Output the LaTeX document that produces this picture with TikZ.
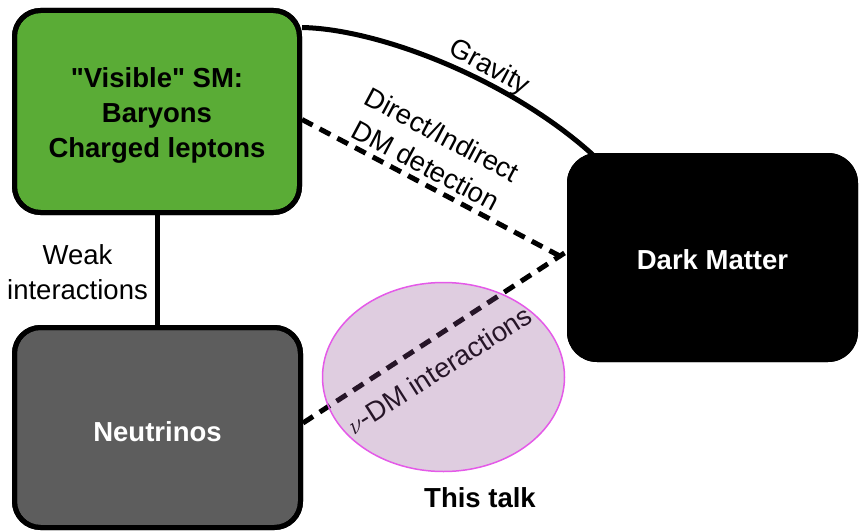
\documentclass[tikz,border=0pt]{standalone}
\usepackage{fontspec}
\setmainfont{Liberation Sans}[Ligatures=TeXOff]
\usetikzlibrary{shapes.geometric}
\definecolor{smgreen}{RGB}{90,172,54}
\definecolor{nugray}{RGB}{93,93,93}
\definecolor{blobfill}{RGB}{140,76,144}
\definecolor{blobedge}{RGB}{228,90,232}
\begin{document}
\begin{tikzpicture}[x=1pt,y=-1pt,
  bigfont/.style={font=\fontsize{27.5}{35}\selectfont},
  boldfont/.style={font=\fontsize{27.5}{35}\selectfont\bfseries},
  box/.style={rectangle, rounded corners=26pt, line width=5pt, draw=black, align=center, inner sep=0pt},
  conn/.style={line width=5pt},
  dashconn/.style={line width=5pt, dash pattern=on 12pt off 8pt},
  lbl/.style={bigfont, align=center, inner sep=0pt}]
\useasboundingbox (0,0) rectangle (859,532);

% boxes (positions)
\path node[box, fill=smgreen, minimum width=285pt, minimum height=202pt] (sm) at (157,111.5) {};
\path node[box, fill=nugray, minimum width=286pt, minimum height=200pt] (nu) at (157.5,427.5) {};
\path node[box, fill=black, draw=none, rounded corners=30pt, minimum width=291pt, minimum height=209pt] (dm) at (712.5,257.5) {};

% connectors (drawn under the boxes)
\draw[conn] (sm.south) -- (sm.south |- nu.north);
\draw[conn] ([yshift=84pt]sm.east) .. controls (380,29) and (510,80) .. ([xshift=-120pt,yshift=-4pt]dm.north);
\draw[dashconn] ([yshift=-8pt]sm.east) -- ([yshift=-1pt]dm.west);
\draw[dashconn] ([yshift=4.5pt]nu.east) -- ([yshift=4.5pt]dm.west);

% boxes redrawn over connector ends
\node[box, fill=black, draw=none, rounded corners=30pt, minimum width=291pt, minimum height=209pt] at (dm) {};
\node[box, fill=none, minimum width=285pt, minimum height=202pt] at (sm) {};
\node[box, fill=none, minimum width=286pt, minimum height=200pt] at (nu) {};

% box texts
\node[boldfont, align=center, inner sep=0pt] (smtext) at ([yshift=-4pt]sm.center) {"Visible" SM:\\Baryons\\Charged leptons};
\node[boldfont, text=white, inner sep=0pt] (nutext) at ([yshift=-4pt]nu.center) {Neutrinos};
\node[boldfont, text=white, inner sep=0pt] (dmtext) at ([yshift=-2pt]dm.center) {Dark Matter};

% labels
\node[lbl] (weak) at (77.5,272) {Weak\\interactions};
\node[lbl, rotate=-28] (grav) at (489,68) {Gravity};
\node[lbl, rotate=-28] (direct) at (434,150) {Direct/Indirect\\DM detection};
\node[lbl, rotate=32.5] (nudm) at (439,370) {$\nu$-DM interactions};

% highlight blob
\node[ellipse, minimum width=242pt, minimum height=189pt, fill=blobfill, fill opacity=0.28, draw=blobedge, draw opacity=1, line width=1.5pt] (blob) at (443.5,377) {};
\node[boldfont, inner sep=0pt] (talk) at (480,498) {This talk};
\end{tikzpicture}
\end{document}
